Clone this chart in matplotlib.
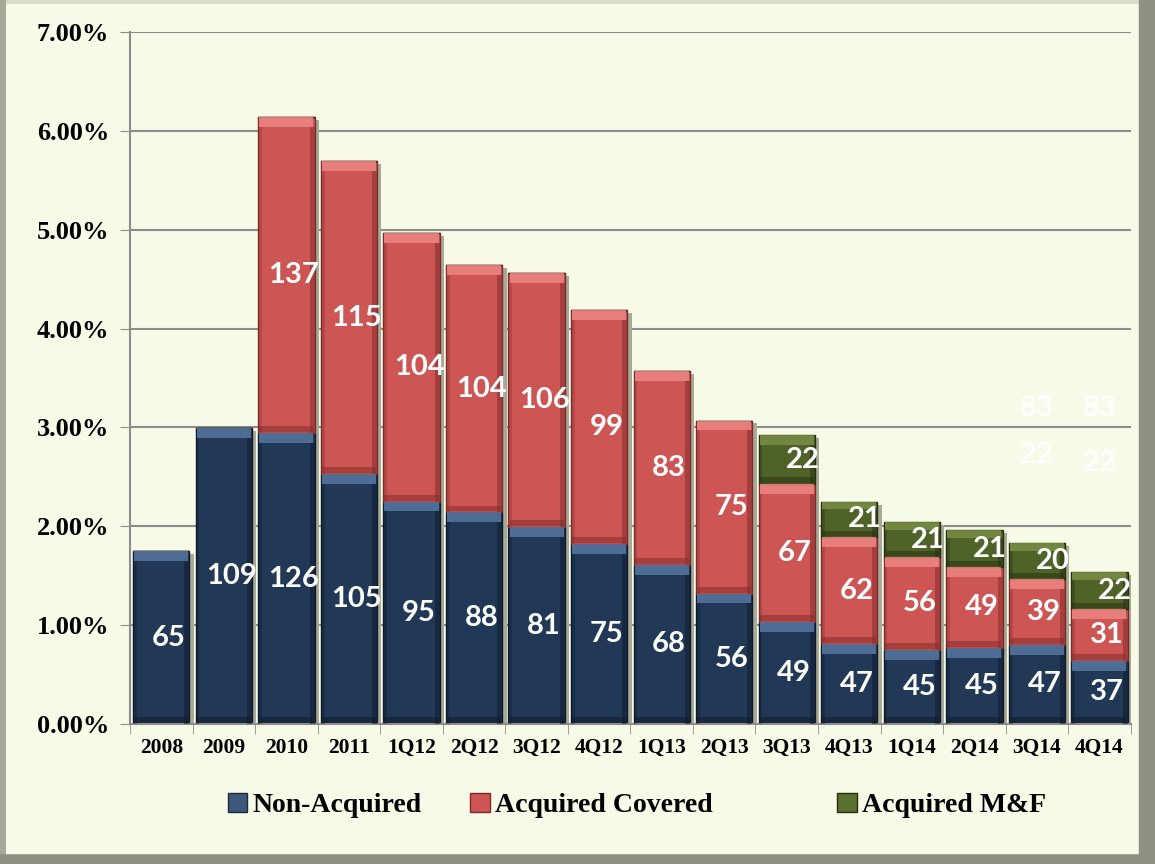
import matplotlib.pyplot as plt
import matplotlib.patches as mpatches
import matplotlib.lines as mlines
import numpy as np

periods = ['2008', '2009', '2010', '2011', '1Q12', '2Q12', '3Q12', '4Q12',
           '1Q13', '2Q13', '3Q13', '4Q13', '1Q14', '2Q14', '3Q14', '4Q14']

# segment heights in percent
non_acq = [1.75, 2.99, 2.94, 2.53, 2.25, 2.14, 1.99, 1.82,
           1.61, 1.32, 1.03, 0.81, 0.75, 0.77, 0.80, 0.64]
acq_cov = [0, 0, 3.20, 3.16, 2.72, 2.50, 2.57, 2.37,
           1.96, 1.75, 1.40, 1.08, 0.94, 0.82, 0.67, 0.52]
acq_mf = [0, 0, 0, 0, 0, 0, 0, 0,
          0, 0, 0.49, 0.36, 0.35, 0.37, 0.36, 0.38]

# data labels shown inside the segments
lbl_non = [65, 109, 126, 105, 95, 88, 81, 75, 68, 56, 49, 47, 45, 45, 47, 37]
lbl_cov = [None, None, 137, 115, 104, 104, 106, 99, 83, 75, 67, 62, 56, 49, 39, 31]
lbl_mf = [None] * 10 + [22, 21, 21, 21, 20, 22]

# leftover white labels floating above the last two bars
stray_idx = [14, 15, 14, 15]
stray_val = ['83', '83', '22', '22']
stray_y = [3.20, 3.20, 2.72, 2.64]

series_names = ['Non-Acquired', 'Acquired Covered', 'Acquired M&F']

bg = '#F6FAE7'
fig = plt.figure(figsize=(11.55, 8.64), dpi=100, facecolor=bg)
ax = fig.add_axes([0.1126, 0.162, 0.8664, 0.801])
ax.set_facecolor(bg)

x = np.arange(len(periods))
w = 0.9
non_acq = np.array(non_acq)
acq_cov = np.array(acq_cov)
acq_mf = np.array(acq_mf)
total = non_acq + acq_cov + acq_mf

# shadow behind each stack
ax.bar(x + 0.07, total, w, bottom=-0.03, color='#A8AA98', zorder=1.5)


def bevel_bar(vals, bottoms, main, light, dark):
    ax.bar(x, vals, w, bottom=bottoms, color=main, edgecolor=dark, linewidth=1.0, zorder=2)
    m = vals > 0
    bv = np.minimum(0.1, vals * 0.22)
    # top highlight, bottom shade, side shades
    ax.bar(x[m], bv[m], w * 0.96, bottom=(bottoms + vals - bv)[m], color=light, alpha=0.85,
           linewidth=0, zorder=3)
    ax.bar(x[m], bv[m] * 0.6, w * 0.96, bottom=bottoms[m] + 0.01, color=dark, alpha=0.5,
           linewidth=0, zorder=3)
    ax.bar(x[m] - w / 2 + 0.03, vals[m] - bv[m], 0.06, bottom=bottoms[m], color=dark, alpha=0.3,
           linewidth=0, zorder=3)
    ax.bar(x[m] + w / 2 - 0.04, vals[m] - bv[m], 0.08, bottom=bottoms[m], color=dark, alpha=0.5,
           linewidth=0, zorder=3)


zeros = np.zeros(len(x))
bevel_bar(non_acq, zeros, '#213857', '#5677A0', '#0E1A2B')
bevel_bar(acq_cov, non_acq, '#CD5654', '#EE8683', '#7E2A29')
bevel_bar(acq_mf, non_acq + acq_cov, '#4F6228', '#7A8E46', '#26300F')

lab_font = dict(family='Lato', fontweight='bold', fontsize=21, color='white',
                ha='center', va='center', zorder=5)
for i in range(len(x)):
    ax.text(x[i] + 0.12, non_acq[i] / 2, str(lbl_non[i]), **lab_font)
    if lbl_cov[i] is not None:
        ax.text(x[i] + 0.12, non_acq[i] + acq_cov[i] / 2, str(lbl_cov[i]), **lab_font)
    if lbl_mf[i] is not None:
        ax.text(x[i] + 0.25, non_acq[i] + acq_cov[i] + acq_mf[i] / 2, str(lbl_mf[i]), **lab_font)
for i, v, yy in zip(stray_idx, stray_val, stray_y):
    ax.text(x[i], yy, v, **lab_font)

ax.set_xlim(-0.5, len(x) - 0.5)
ax.set_ylim(0, 7)
ax.set_yticks(np.arange(0, 8))
ax.set_yticklabels(['%.2f%%' % v for v in range(8)], family='Liberation Serif',
                   fontweight='bold', fontsize=19)
ax.set_xticks(x)
ax.set_xticklabels(periods, family='Liberation Serif', fontweight='bold', fontsize=15.5)
ax.tick_params(axis='x', length=0, pad=10)
ax.set_xticks(np.arange(-0.5, len(x)), minor=True)
ax.tick_params(axis='x', which='minor', length=7, color='#8C8C8C')
ax.tick_params(axis='y', length=7, color='#8C8C8C', pad=8)
ax.yaxis.grid(True, color='#8C8C8C', linewidth=1.5, zorder=1)
ax.set_axisbelow(True)
for s in ['top', 'right']:
    ax.spines[s].set_visible(False)
for s in ['left', 'bottom']:
    ax.spines[s].set_color('#8C8C8C')
    ax.spines[s].set_linewidth(1.5)

# legend entries placed one by one, like the spacing in the original
leg_faces = ['#3D587A', '#CD5654', '#5C7032']
leg_edges = ['#1A2A40', '#7E2A29', '#26300F']
leg_x = [0.197, 0.407, 0.725]
for name, fc, ec, lx in zip(series_names, leg_faces, leg_edges, leg_x):
    h = mpatches.Patch(facecolor=fc, edgecolor=ec, label=name)
    fig.legend(handles=[h], loc='center left', bbox_to_anchor=(lx, 0.068), frameon=False,
               prop=dict(family='Liberation Serif', weight='bold', size=20),
               handlelength=0.7, handleheight=0.7, handletextpad=0.2,
               borderpad=0, borderaxespad=0)

# frame: light top/left edges, heavier gray right/bottom edges
fr = fig.transFigure
fig.add_artist(mlines.Line2D([0, 1], [0.998, 0.998], transform=fr, color='#DADCCC', lw=3))
fig.add_artist(mlines.Line2D([0.002, 0.002], [0, 1], transform=fr, color='#A6A898', lw=5))
fig.add_artist(mlines.Line2D([0.994, 0.994], [0, 1], transform=fr, color='#8E9080', lw=14))
fig.add_artist(mlines.Line2D([0, 1], [0.005, 0.005], transform=fr, color='#8E9080', lw=9))

fig.savefig('out.png', dpi=100, facecolor=bg)
